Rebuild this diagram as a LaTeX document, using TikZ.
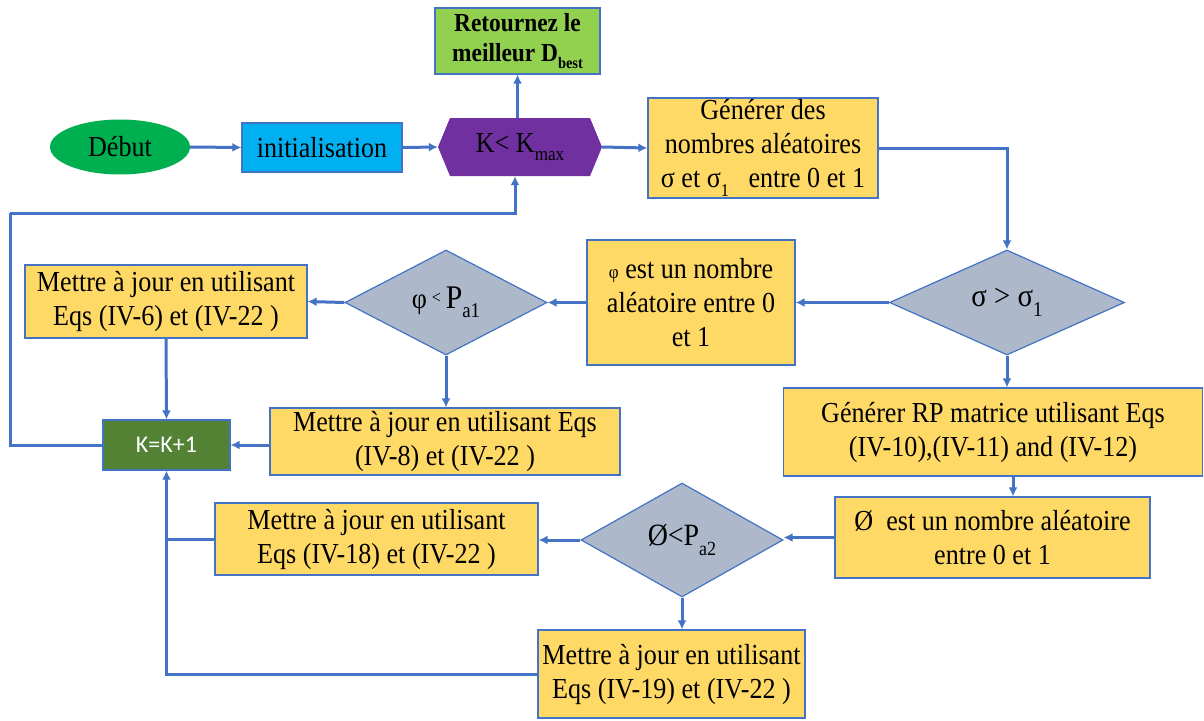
\documentclass[tikz,border=0pt]{standalone}
\usepackage{fontspec}
\setmainfont{Liberation Serif}[FakeStretch=0.9]
\newfontfamily\calib{Carlito}
\usetikzlibrary{shapes.geometric,arrows.meta}
\definecolor{lblue}{HTML}{4472C4}
\definecolor{byel}{HTML}{FFD966}
\definecolor{dgray}{HTML}{ADB9CA}
\definecolor{gstart}{HTML}{00B050}
\definecolor{cinit}{HTML}{00B0F0}
\definecolor{cpurp}{HTML}{7030A0}
\definecolor{cret}{HTML}{92D050}
\definecolor{ckk}{HTML}{548235}
\newcommand{\subx}[2]{\raisebox{-0.3em}{\fontsize{#1}{#1}\selectfont #2}}
\tikzset{
  txt/.style={font=\fontsize{29}{34}\selectfont, align=center, text=black},
  ybox/.style={txt, rectangle, draw=lblue, line width=1.2pt, fill=byel, inner sep=0pt},
  dia/.style={txt, diamond, draw=lblue, line width=1.2pt, fill=dgray, inner sep=0pt},
  conn/.style={draw=lblue, line width=3pt},
  arr/.style={conn, -{Latex[length=9pt,width=9pt]}},
}
\begin{document}
\begin{tikzpicture}[x=1pt,y=-1pt]
\useasboundingbox (0,0) rectangle (1204,720);
% hexagon background
\fill[cpurp] (438,147) -- (450,118) -- (590,118) -- (602,147) -- (590,176) -- (450,176) -- cycle;
\node[txt, minimum width=164, minimum height=58, inner sep=0pt] (kmax) at (520,147) {K<~K\subx{19}{max}};
\node[txt, ellipse, fill=gstart, minimum width=140, minimum height=55, inner sep=0pt] (debut) at (120,147) {Début};
\node[txt, rectangle, fill=cinit, draw=lblue, line width=1.2pt, minimum width=160, minimum height=49, inner sep=0pt] (init) at (322,147.5) {initialisation};
\node[txt, rectangle, fill=cret, draw=lblue, line width=1.2pt, minimum width=165, minimum height=66, inner sep=0pt, font=\fontsize{26}{30}\selectfont\bfseries] (ret) at (517.5,41) {Retournez le\\meilleur D\subx{16}{best}};
\node[ybox, minimum width=230, minimum height=100] (gen) at (763,148) {Générer des\\nombres aléatoires\\σ et σ\subx{18}{1}~~ entre 0 et 1};
\node[dia, minimum width=235, minimum height=105, font=\fontsize{32}{34}\selectfont] (sig) at (1007,302.5) {σ > σ\subx{21}{1}};
\node[ybox, minimum width=208, minimum height=125] (phi) at (691,302.5) {{\fontsize{19}{19}\selectfont φ} est un nombre\\aléatoire entre 0\\et 1};
\node[dia, minimum width=202, minimum height=105] (pa1) at (446,302.5) {φ\,{\fontsize{18}{18}\selectfont\raisebox{0.3em}{<}}\,{\fontsize{33}{34}\selectfont P}\subx{21}{a1}};
\node[ybox, minimum width=282, minimum height=73] (b6) at (166,301.5) {Mettre à jour en utilisant\\Eqs (IV-6) et (IV-22 )};
\node[rectangle, fill=ckk, draw=lblue, line width=1.2pt, minimum width=127, minimum height=50, inner sep=0pt, text=white, font=\calib\fontsize{24}{26}\selectfont] (kk) at (166.5,445) {K=K+1};
\node[ybox, minimum width=350, minimum height=67] (b8) at (445,441.5) {Mettre à jour en utilisant Eqs\\(IV-8) et (IV-22 )};
\node[ybox, minimum width=419, minimum height=88] (rp) at (993,432) {Générer RP matrice utilisant Eqs\\(IV-10),(IV-11) and (IV-12)};
\node[ybox, minimum width=315, minimum height=81] (om) at (992.5,537.5) {Ø~ est un nombre aléatoire\\entre 0 et 1};
\node[dia, minimum width=202, minimum height=114, font=\fontsize{31}{34}\selectfont] (pa2) at (682,540) {Ø<P\subx{20}{a2}};
\node[ybox, minimum width=323, minimum height=72] (b18) at (376.5,539) {Mettre à jour en utilisant\\Eqs (IV-18) et (IV-22 )};
\node[ybox, minimum width=267, minimum height=88] (b19) at (671.5,674) {Mettre à jour en utilisant\\Eqs (IV-19) et (IV-22 )};
\coordinate (lp) at (10,213);
% connectors
\draw[arr] (debut.east) -- (init.west);
\draw[arr] (init.east) -- (kmax.west);
\draw[arr] (kmax.north -| ret.south) -- (ret.south);
\draw[arr] (kmax.east) -- (gen.west);
\draw[arr] (gen.east) -| (sig.north);
\draw[arr] (sig.west) -- (phi.east);
\draw[arr] (phi.west) -- (pa1.east);
\draw[arr] (pa1.west) -- (b6.east);
\draw[arr] (b6.south) -- (kk.north);
\draw[arr] (pa1.south) -- (pa1.south |- b8.north);
\draw[arr] (b8.west |- kk.east) -- (kk.east);
\draw[conn] (kk.west) -| (lp);
\draw[arr] (lp) -| ([xshift=-5pt]kmax.south);
\draw[arr] (sig.south) -- (sig.south |- rp.north);
\draw[arr] ([xshift=20pt]rp.south) -- ([xshift=20pt]rp.south |- om.north);
\draw[arr] (om.west) -- (om.west -| pa2.east);
\draw[arr] (pa2.west) -- (pa2.west -| b18.east);
\draw[arr] (pa2.south) -- (pa2.south |- b19.north);
\draw[conn] (b18.west) -- (b18.west -| kk.south);
\draw[arr] (b19.west) -| (kk.south);
\end{tikzpicture}
\end{document}
